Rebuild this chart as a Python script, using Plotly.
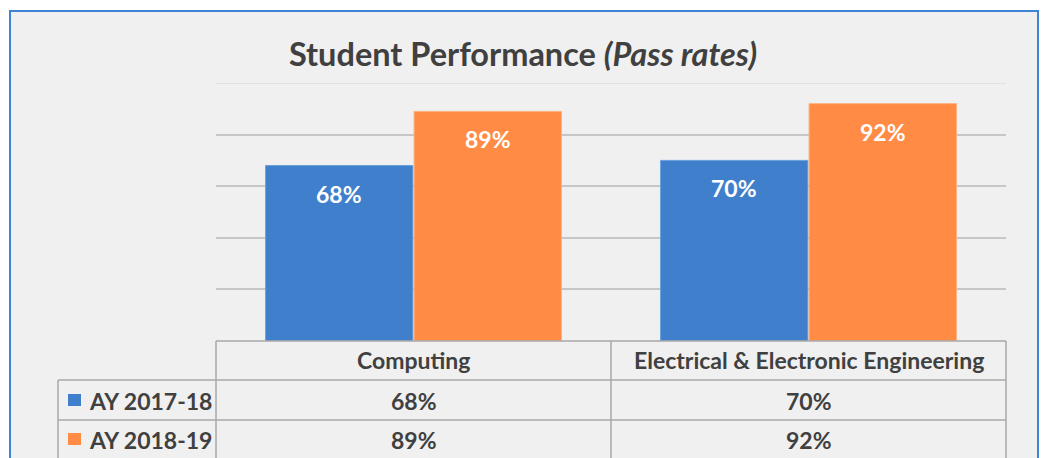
import plotly.graph_objects as go

categories = ["Computing", "Electrical & Electronic Engineering"]
series_names = ["AY 2017-18", "AY 2018-19"]
ay_2017_18 = [0.68, 0.70]
ay_2018_19 = [0.89, 0.92]
colors = ["#3f7fcc", "#ff8b45"]
line_colors = ["#6a9fdc", "#ffb07e"]

W, H = 1046, 458
FONT = "Lato"
TXT = "#404040"
GRID = "#c6c6c6"
TABLE = "#a9a9a9"
BARGAP = 0.248


def px(x):
    return x / W


def py(y):
    return 1 - y / H


fig = go.Figure()
values = [ay_2017_18, ay_2018_19]
for name, vals, c, lc in zip(series_names, values, colors, line_colors):
    fig.add_trace(go.Bar(
        x=categories, y=vals, name=name,
        marker=dict(color=c, line=dict(color=lc, width=1)),
        hoverinfo="x+y",
    ))

# plot area pixel bounds
X0, X1 = 216, 1006
Y_TOP, Y_BOT = 83, 341

fig.update_layout(
    width=W, height=H,
    margin=dict(l=0, r=0, t=0, b=0),
    paper_bgcolor="white",
    plot_bgcolor="rgba(0,0,0,0)",
    barmode="group",
    bargap=BARGAP,
    bargroupgap=0.008,
    showlegend=False,
    font=dict(family=FONT, color=TXT),
    title=dict(
        text="<b>Student Performance <i>(Pass rates)</i></b>",
        x=0.5, xanchor="center", xref="paper",
        y=py(55), yanchor="middle", yref="paper",
        font=dict(family=FONT, size=32.5, color=TXT),
    ),
    xaxis=dict(
        domain=[px(X0), px(X1)], range=[-0.5, 1.5],
        showticklabels=False, showgrid=False, zeroline=False,
        showline=False, ticks="",
    ),
    yaxis=dict(
        domain=[py(Y_BOT), py(Y_TOP)], range=[0, 1.0],
        dtick=0.2, tick0=0, showticklabels=False,
        showgrid=True, gridcolor=GRID, gridwidth=1.5,
        zeroline=False, showline=False, ticks="",
    ),
)

shapes = []
# outer chart box
shapes.append(dict(type="rect", xref="paper", yref="paper", layer="below",
                   x0=px(10), x1=px(1038), y0=py(470), y1=py(11),
                   fillcolor="#f0f0f0", line=dict(color="#3d84d6", width=2)))
# top gridline (100%) at the axis end
shapes.append(dict(type="line", xref="paper", yref="y", layer="below",
                   x0=px(X0), x1=px(X1), y0=1.0, y1=1.0,
                   line=dict(color="#dcdcdc", width=1.5)))

# data table lines
lw = 1.5
hl = [(216, 1006, 341), (58, 1006, 380), (58, 1006, 420), (58, 1006, 459)]
for xa, xb, yy in hl:
    shapes.append(dict(type="line", xref="paper", yref="paper",
                       x0=px(xa), x1=px(xb), y0=py(yy), y1=py(yy),
                       line=dict(color=TABLE, width=lw)))
vl = [(58, 380), (216, 341), (611, 341), (1006, 341)]
for xx, ya in vl:
    shapes.append(dict(type="line", xref="paper", yref="paper",
                       x0=px(xx), x1=px(xx), y0=py(ya), y1=py(470),
                       line=dict(color=TABLE, width=lw)))

# legend keys in table
row_centers = [401, 440]
for c, yc in zip(colors, row_centers):
    shapes.append(dict(type="rect", xref="paper", yref="paper",
                       x0=px(68), x1=px(81), y0=py(yc + 5), y1=py(yc - 7),
                       fillcolor=c, line=dict(width=0)))

TS = 23
annotations = []
# header row
for i, cat in enumerate(categories):
    annotations.append(dict(x=i, y=py(360), xref="x", yref="paper",
                            xanchor="center", yanchor="middle",
                            text=f"<b>{cat}</b>", showarrow=False,
                            font=dict(family=FONT, size=TS, color=TXT)))
# rows
for name, vals, yc in zip(series_names, values, row_centers):
    annotations.append(dict(x=px(87), y=py(yc), xref="paper", yref="paper",
                            xanchor="left", yanchor="middle",
                            text=f"<b>{name}</b>", showarrow=False,
                            font=dict(family=FONT, size=TS, color=TXT)))
    for i, v in enumerate(vals):
        annotations.append(dict(x=i, y=py(yc), xref="x", yref="paper",
                                xanchor="center", yanchor="middle",
                                text=f"<b>{v:.0%}</b>", showarrow=False,
                                font=dict(family=FONT, size=TS, color=TXT)))

# data labels inside bars (inside end)
off = (1 - BARGAP) / 4
for s, vals in enumerate(values):
    for i, v in enumerate(vals):
        annotations.append(dict(x=i + (off if s else -off), y=v, xref="x", yref="y",
                                xanchor="center", yanchor="middle",
                                yshift=-28, text=f"<b>{v:.0%}</b>", showarrow=False,
                                font=dict(family=FONT, size=23, color="white")))

fig.update_layout(shapes=shapes, annotations=annotations)
fig.write_html("out.html", config={"displayModeBar": False},
               post_script="document.body.style.margin='0';document.body.style.overflow='hidden';")
